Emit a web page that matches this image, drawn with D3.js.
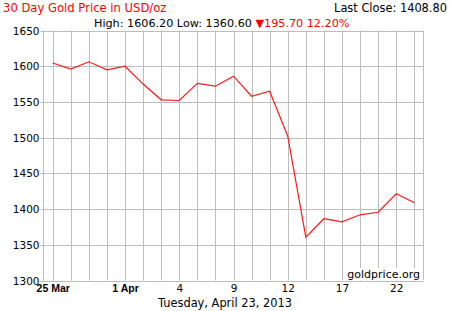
<!DOCTYPE html>
<html><head><meta charset="utf-8">
<script src="https://cdn.jsdelivr.net/npm/d3@7"></script>
<style>
html,body{margin:0;padding:0;background:#fff;}
svg{display:block;font-family:"DejaVu Sans",Verdana,sans-serif;}
</style></head>
<body><svg id="c" width="450" height="311"></svg>
<script>
const dates = ["Mar 25","Mar 26","Mar 27","Mar 28","Apr 1","Apr 2","Apr 3","Apr 4","Apr 5","Apr 8","Apr 9","Apr 10","Apr 11","Apr 12","Apr 15","Apr 16","Apr 17","Apr 18","Apr 19","Apr 22","Apr 23"];
const prices = [1604.5,1596,1606.2,1595,1600,1575,1553,1552,1576,1572,1586,1558,1565,1502,1360.6,1386.5,1382,1392,1395.5,1421.5,1408.8];
const yTicks = [1300,1350,1400,1450,1500,1550,1600,1650];
const xTickIndex = [0,4,7,10,13,16,19];
const xTickLabels = ["25 Mar","1 Apr","4","9","12","17","22"];
const xTickBold = [true,true,false,false,false,false,false];
const title = "30 Day Gold Price in USD/oz";
const lastClose = "Last Close: 1408.80";
const statsText = "High: 1606.20 Low: 1360.60 ";
const changeText = "195.70 12.20%";
const dateText = "Tuesday, April 23, 2013";
const sourceText = "goldprice.org";

const svg = d3.select("#c");
const L = 43.5, R = 423.5, T = 30.5, B = 280.5;
const x = d3.scaleLinear().domain([0, dates.length - 1]).range([52.7, 414.3]);
const y = d3.scaleLinear().domain([1300, 1650]).range([B, T]);
const grid = "#bdbdbd";

// horizontal grid + y ticks
const ya = svg.append("g").attr("transform", `translate(${L},0)`)
  .call(d3.axisLeft(y).tickValues(yTicks).tickSize(3).tickPadding(1).tickFormat(d3.format("d")));
ya.select(".domain").remove();
ya.selectAll("line").attr("stroke", grid);
ya.selectAll("text").attr("font-size", "10.5px").attr("fill", "#000").attr("font-family", "DejaVu Sans");
svg.append("g").selectAll("line").data(yTicks).join("line")
  .attr("x1", L).attr("x2", R).attr("y1", d => Math.round(y(d)) + 0.5).attr("y2", d => Math.round(y(d)) + 0.5)
  .attr("stroke", grid);
ya.selectAll(".tick").attr("transform", d => `translate(0,${Math.round(y(d)) + 0.5})`);

// vertical grid
svg.append("g").selectAll("line").data(d3.range(dates.length)).join("line")
  .attr("x1", d => Math.round(x(d)) + 0.5).attr("x2", d => Math.round(x(d)) + 0.5)
  .attr("y1", T).attr("y2", B).attr("stroke", grid);
// borders
svg.append("line").attr("x1", L).attr("x2", L).attr("y1", T).attr("y2", B).attr("stroke", grid);
svg.append("line").attr("x1", R).attr("x2", R).attr("y1", T).attr("y2", B).attr("stroke", grid);

// x axis labels
const xa = svg.append("g").attr("transform", `translate(0,${B})`)
  .call(d3.axisBottom(x).tickValues(xTickIndex).tickSize(0).tickPadding(4)
    .tickFormat((d, i) => xTickLabels[i]));
xa.select(".domain").remove();
xa.selectAll("text").attr("font-size", "10.5px").attr("fill", "#000")
  .attr("font-weight", (d, i) => xTickBold[i] ? "bold" : "normal")
  .attr("font-family", (d, i) => xTickBold[i] ? "Liberation Sans" : "DejaVu Sans");

// line
const line = d3.line().x((d, i) => x(i)).y(d => y(d));
svg.append("path").datum(prices).attr("d", line).attr("fill", "none")
  .attr("stroke", "#ff1a1a").attr("stroke-width", 1.2).attr("stroke-linejoin", "miter");

// source label box
svg.append("rect").attr("x", 343).attr("y", 268).attr("width", 80).attr("height", 12).attr("fill", "#fff");
svg.append("text").attr("x", 420).attr("y", 277.5).attr("text-anchor", "end")
  .attr("font-size", "11px").attr("fill", "#000").text(sourceText);

// titles
svg.append("text").attr("x", 3).attr("y", 12).attr("font-size", "11.6px").attr("fill", "#ff0000").text(title);
svg.append("text").attr("x", 447).attr("y", 12).attr("text-anchor", "end").attr("font-size", "11.4px").attr("fill", "#000").text(lastClose);
const st = svg.append("text").attr("x", 94).attr("y", 27).attr("font-size", "11.2px").attr("fill", "#000");
st.append("tspan").text(statsText);
st.append("tspan").attr("fill", "#ff0000").text("\u25BC" + changeText);

svg.append("text").attr("x", 225).attr("y", 307).attr("text-anchor", "middle")
  .attr("font-size", "11.4px").attr("fill", "#000").text(dateText);
</script></body></html>
